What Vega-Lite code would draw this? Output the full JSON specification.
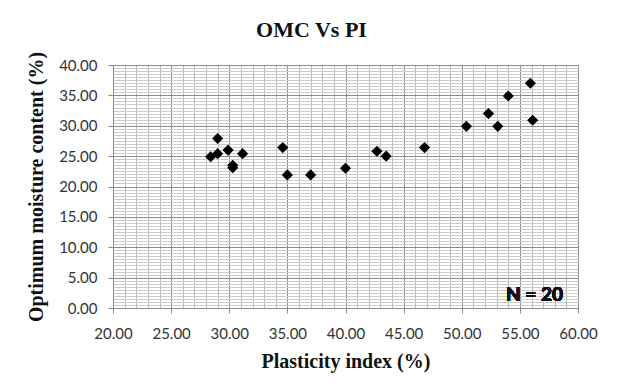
{
  "$schema": "https://vega.github.io/schema/vega-lite/v6.json",
  "autosize": {"type": "none"},
  "width": 465,
  "height": 243,
  "padding": {"left": 113, "top": 65, "right": 39, "bottom": 83},
  "background": "white",
  "title": {
    "text": "OMC Vs PI",
    "font": "Liberation Serif",
    "fontSize": 22,
    "fontWeight": "bold",
    "color": "#111111",
    "anchor": "middle",
    "dx": -34,
    "offset": 9
  },
  "config": {
    "view": {"stroke": null},
    "axis": {
      "labelFont": "Lato",
      "labelFontSize": 15,
      "labelColor": "#333333",
      "labelFlush": false,
      "titleFont": "Liberation Serif",
      "titleFontSize": 20,
      "titleFontWeight": "bold",
      "titleColor": "#111111"
    }
  },
  "data": {
    "values": [
      {"PI": 28.4, "OMC": 24.9},
      {"PI": 29.0, "OMC": 27.9},
      {"PI": 29.0, "OMC": 25.4},
      {"PI": 29.9, "OMC": 26.0},
      {"PI": 30.3, "OMC": 23.5},
      {"PI": 30.3, "OMC": 23.1},
      {"PI": 31.15, "OMC": 25.4},
      {"PI": 34.6, "OMC": 26.4},
      {"PI": 35.0, "OMC": 21.9},
      {"PI": 37.0, "OMC": 21.9},
      {"PI": 40.0, "OMC": 23.0},
      {"PI": 42.7, "OMC": 25.8},
      {"PI": 43.5, "OMC": 25.0},
      {"PI": 46.8, "OMC": 26.4},
      {"PI": 50.4, "OMC": 29.9},
      {"PI": 52.3, "OMC": 32.0},
      {"PI": 53.1, "OMC": 29.9},
      {"PI": 54.0, "OMC": 34.9},
      {"PI": 55.9, "OMC": 37.0},
      {"PI": 56.1, "OMC": 30.9}
    ]
  },
  "layer": [
    {
      "mark": {"type": "point", "opacity": 0},
      "encoding": {
        "x": {
          "field": "PI", "type": "quantitative",
          "scale": {"domain": [20, 60], "nice": false, "zero": false},
          "axis": {"orient": "bottom", "grid": true, "gridColor": "#b8b8b8", "gridWidth": 1, "tickCount": 40, "labels": false, "ticks": false, "domain": false, "title": null}
        },
        "y": {
          "field": "OMC", "type": "quantitative",
          "scale": {"domain": [0, 40], "nice": false, "zero": false},
          "axis": {"orient": "left", "grid": true, "gridColor": "#cccccc", "gridWidth": 1, "tickCount": 80, "labels": false, "ticks": false, "domain": false, "title": null}
        }
      }
    },
    {
      "mark": {"type": "point", "shape": "diamond", "filled": true, "color": "#000000", "size": 125, "opacity": 1},
      "encoding": {
        "x": {
          "field": "PI", "type": "quantitative",
          "scale": {"domain": [20, 60], "nice": false, "zero": false},
          "axis": {"orient": "bottom", "grid": true, "gridColor": "#8c8c8c", "gridWidth": 1, "tickCount": 8, "format": ".2f", "title": "Plasticity index (%)", "domainColor": "#8c8c8c", "tickColor": "#8c8c8c", "tickSize": 5, "labelPadding": 13, "titlePadding": 10}
        },
        "y": {
          "field": "OMC", "type": "quantitative",
          "scale": {"domain": [0, 40], "nice": false, "zero": false},
          "axis": {"orient": "left", "grid": true, "gridColor": "#8c8c8c", "gridWidth": 1, "tickCount": 8, "format": ".2f", "title": "Optimum moisture content (%)", "domainColor": "#8c8c8c", "tickColor": "#8c8c8c", "tickSize": 5, "labelPadding": 11, "titlePadding": 12}
        }
      }
    },
    {
      "mark": {"type": "text", "font": "Lato", "fontSize": 19, "fontWeight": "bold", "color": "#111111", "align": "center", "baseline": "middle"},
      "encoding": {
        "x": {"datum": 56.26, "type": "quantitative", "axis": null},
        "y": {"datum": 2.2, "type": "quantitative", "axis": null},
        "text": {"value": "N = 20"}
      }
    }
  ],
  "resolve": {"axis": {"x": "independent", "y": "independent"}}
}
